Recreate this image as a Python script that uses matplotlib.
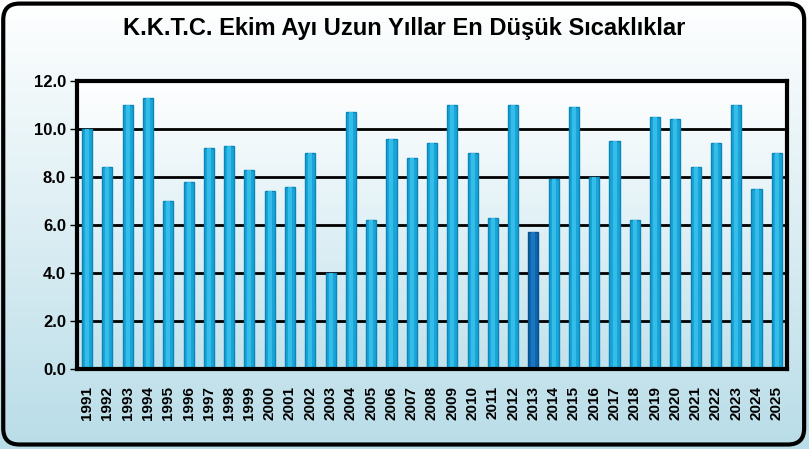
import numpy as np
import matplotlib
matplotlib.use("Agg")
import matplotlib.pyplot as plt
from matplotlib.patches import FancyBboxPatch
from matplotlib.colors import LinearSegmentedColormap

# data
years = [str(y) for y in range(1991, 2026)]
temps = [10.0, 8.4, 11.0, 11.3, 7.0, 7.8, 9.2, 9.3, 8.3, 7.4,
         7.6, 9.0, 4.0, 10.7, 6.2, 9.6, 8.8, 9.4, 11.0, 9.0,
         6.3, 11.0, 5.7, 7.9, 10.9, 8.0, 9.5, 6.2, 10.5, 10.4,
         8.4, 9.4, 11.0, 7.5, 9.0]
highlight_year = "2013"
yticks = [0, 2, 4, 6, 8, 10, 12]
title = "K.K.T.C. Ekim Ayı Uzun Yıllar En Düşük Sıcaklıklar"

plt.rcParams['font.family'] = ['Liberation Sans', 'DejaVu Sans']

fig = plt.figure(figsize=(8.09, 4.49), dpi=100)

# figure background: vertical gradient white -> light blue, rounded frame
bg = fig.add_axes([0, 0, 1, 1], zorder=0)
bg_cmap = LinearSegmentedColormap.from_list("bg", ["#ffffff", "#b9dde8"])
grad = np.linspace(0, 1, 256).reshape(-1, 1)
bg.imshow(grad, cmap=bg_cmap, aspect='auto', extent=[0, 1, 0, 1])
bg.set_xlim(0, 1)
bg.set_ylim(0, 1)
bg.axis('off')
bg.add_patch(FancyBboxPatch((0.004, 0.01), 0.99, 0.982,
                            boxstyle="round,pad=0,rounding_size=0.02",
                            fill=False, edgecolor='black', linewidth=3,
                            transform=bg.transAxes, mutation_aspect=809/449))

# main chart
ax = fig.add_axes([77/809, 1 - 369/449, (787 - 77)/809, (369 - 81)/449], zorder=1)
x = np.arange(len(years))
ax.set_xlim(-0.5, len(years) - 0.5)
ax.set_ylim(0, 12)

pa_cmap = LinearSegmentedColormap.from_list("pa", ["#ffffff", "#c2e2ec"])
ax.imshow(np.linspace(0, 1, 256).reshape(-1, 1), cmap=pa_cmap, aspect='auto',
          extent=[-0.5, len(years) - 0.5, 0, 12], zorder=0)

for yv in yticks[1:-1]:
    ax.axhline(yv, color='black', linewidth=2, zorder=1)

colors = ['#0b64ad' if y == highlight_year else '#19a5d8' for y in years]
edges = ['#08508a' if y == highlight_year else '#0c86b8' for y in years]
ax.bar(x, temps, width=0.5, color=colors, edgecolor=edges, linewidth=1, zorder=2)
# lighter centre strip to mimic the cylinder shading
shine = ['#1b78c0' if y == highlight_year else '#33bde8' for y in years]
ax.bar(x, temps, width=0.2, color=shine, linewidth=0, zorder=3)

ax.set_xticks(x)
ax.set_xticklabels(years, rotation=90, fontsize=11, fontweight='bold')
ax.set_yticks(yticks)
ax.set_yticklabels([f"{v:.1f}" for v in yticks], fontsize=12, fontweight='bold')
ax.tick_params(axis='x', length=0, pad=12)
ax.tick_params(axis='y', length=5, width=1, pad=3)
for sp in ax.spines.values():
    sp.set_linewidth(3)
    sp.set_color('black')
    sp.set_zorder(4)

fig.text(0.5, 1 - 28/449, title, ha='center', va='center',
         fontsize=17, fontweight='bold')

fig.savefig("out.png", dpi=100)
